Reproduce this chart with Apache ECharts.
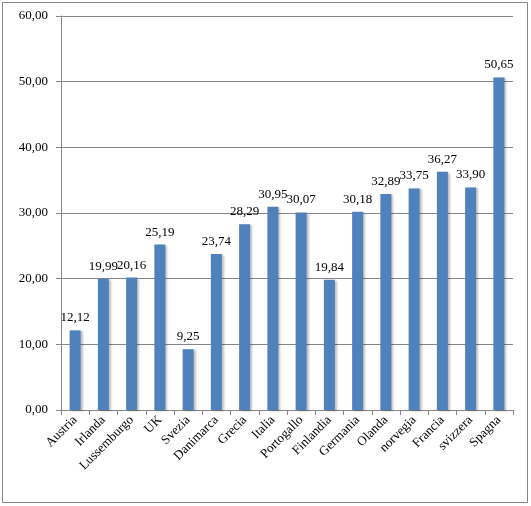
<!DOCTYPE html>
<html>
<head>
<meta charset="utf-8">
<script src="https://cdn.jsdelivr.net/npm/echarts@6/dist/echarts.min.js"></script>
<style>
html, body { margin: 0; padding: 0; background: #fff; }
#chart { width: 531px; height: 506px; }
</style>
</head>
<body>
<div id="chart"></div>
<script>
var paesi = ['Austria', 'Irlanda', 'Lussemburgo', 'UK', 'Svezia', 'Danimarca', 'Grecia', 'Italia',
	'Portogallo', 'Finlandia', 'Germania', 'Olanda', 'norvegia', 'Francia', 'svizzera', 'Spagna'];
var valori = [12.12, 19.99, 20.16, 25.19, 9.25, 23.74, 28.29, 30.95,
	30.07, 19.84, 30.18, 32.89, 33.75, 36.27, 33.90, 50.65];

function virgola(v) {
	return Number(v).toFixed(2).replace('.', ',');
}

var myChart = echarts.init(document.getElementById('chart'));
var option = {
	animation: false,
	textStyle: { fontFamily: 'Liberation Serif' },
	graphic: [{
		type: 'rect',
		shape: { x: 2.5, y: 2.5, width: 525, height: 500 },
		style: { fill: 'none', stroke: '#868686', lineWidth: 1 }
	}],
	grid: { left: 61, right: 18, top: 16, bottom: 96 },
	xAxis: {
		type: 'category',
		data: paesi,
		axisLine: { lineStyle: { color: '#868686' } },
		axisTick: { show: true, length: 5, lineStyle: { color: '#868686' } },
		axisLabel: {
			rotate: 45,
			interval: 0,
			color: '#000',
			fontSize: 13,
			fontFamily: 'Liberation Serif',
			margin: 8
		}
	},
	yAxis: {
		type: 'value',
		min: 0,
		max: 60,
		interval: 10,
		axisLine: { show: true, lineStyle: { color: '#868686' } },
		axisTick: { show: true, length: 5, lineStyle: { color: '#868686' } },
		splitLine: { lineStyle: { color: '#868686' } },
		axisLabel: {
			color: '#000',
			fontSize: 13,
			fontFamily: 'Liberation Serif',
			margin: 13,
			formatter: virgola
		}
	},
	series: [{
		type: 'bar',
		data: valori,
		barWidth: 11,
		itemStyle: {
			color: '#4F81BD',
			shadowColor: 'rgba(0,0,0,0.25)',
			shadowBlur: 2,
			shadowOffsetX: 2,
			shadowOffsetY: 1
		},
		label: {
			show: true,
			position: 'top',
			distance: 6,
			color: '#000',
			fontSize: 13,
			fontFamily: 'Liberation Serif',
			formatter: function (p) { return virgola(p.value); }
		}
	}]
};
myChart.setOption(option);
</script>
</body>
</html>
